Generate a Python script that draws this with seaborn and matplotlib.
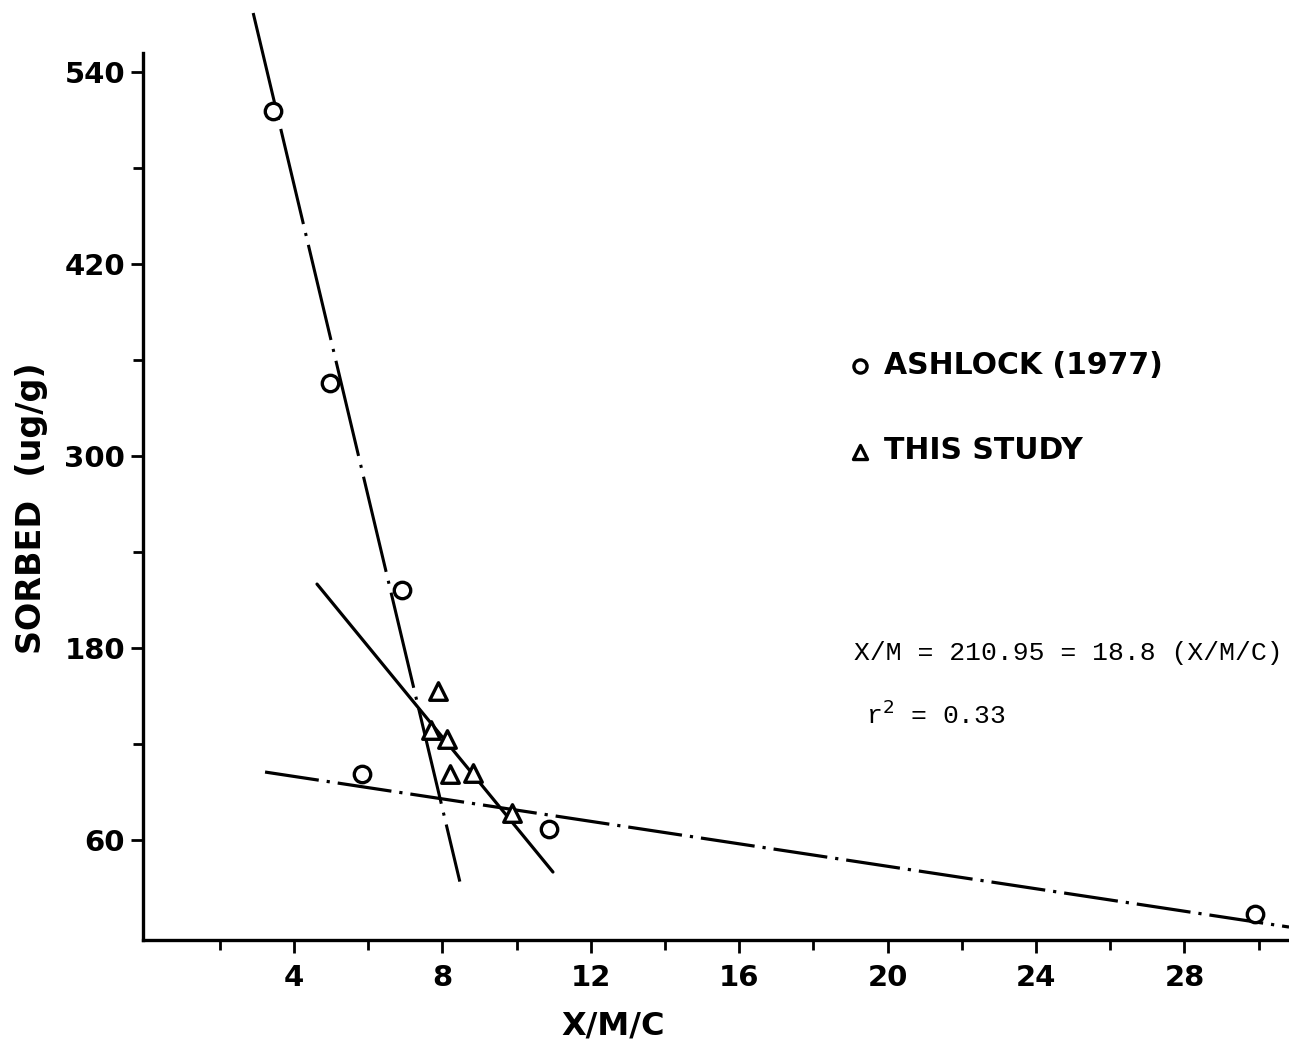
import matplotlib
matplotlib.use("Agg")
import matplotlib.pyplot as plt
import seaborn as sns
import pandas as pd

# ---- data ----
ashlock_x = [3.43, 4.97, 6.91, 5.83, 10.87, 29.9]
ashlock_y = [516, 346, 216, 101, 67, 14]
study_x = [7.88, 7.69, 8.12, 8.20, 8.83, 9.88]
study_y = [153, 129, 123, 101, 102, 77]

# fitted lines (end points)
steep_x = [2.9, 8.47]
steep_y = [577, 34]
study_fit_x = [4.62, 10.98]
study_fit_y = [220, 40]
flat_x = [3.22, 30.82]
flat_y = [102.5, 5.6]

x_major = [4, 8, 12, 16, 20, 24, 28]
x_minor = [2, 6, 10, 14, 18, 22, 26, 30]
y_major = [60, 180, 300, 420, 540]
y_minor = [120, 240, 360, 480]

legend_labels = ["ASHLOCK (1977)", "THIS STUDY"]
equation_text = "X/M = 210.95 = 18.8 (X/M/C)"
r2_text = r"r$^2$ = 0.33"

sns.set_style("ticks")
plt.rcParams["font.family"] = ["DejaVu Sans"]
plt.rcParams["text.color"] = "black"
plt.rcParams["axes.labelcolor"] = "black"
plt.rcParams["xtick.color"] = "black"
plt.rcParams["ytick.color"] = "black"
plt.rcParams["xtick.labelcolor"] = "black"
plt.rcParams["ytick.labelcolor"] = "black"

W, H = 1289, 1045
fig = plt.figure(figsize=(W / 100, H / 100), dpi=100)
ax = fig.add_axes([143 / W, 105 / H, (W - 143) / W, (940 - 53) / H])

df_a = pd.DataFrame({"x": ashlock_x, "y": ashlock_y})
df_s = pd.DataFrame({"x": study_x, "y": study_y})

sns.scatterplot(data=df_a, x="x", y="y", ax=ax, marker="o", s=140,
                facecolor="white", edgecolor="black", linewidth=2.4,
                label=legend_labels[0], zorder=5, clip_on=False)
sns.scatterplot(data=df_s, x="x", y="y", ax=ax, marker="^", s=160,
                facecolor="white", edgecolor="black", linewidth=2.4,
                label=legend_labels[1], zorder=5, clip_on=False)

ax.plot(steep_x, steep_y, color="black", lw=2.2,
        linestyle=(0, (32, 3, 1, 3)), clip_on=False, zorder=3)
ax.plot(study_fit_x, study_fit_y, color="black", lw=2.3,
        linestyle="-", clip_on=False, zorder=3)
ax.plot(flat_x, flat_y, color="black", lw=2.3,
        linestyle=(0, (17, 2.5, 1, 2.5)), clip_on=False, zorder=3)

ax.set_xlim(-0.07, 30.82)
ax.set_ylim(-2.5, 552)

ax.set_xticks(x_major)
ax.set_xticks(x_minor, minor=True)
ax.set_yticks(y_major)
ax.set_yticks(y_minor, minor=True)
ax.tick_params(axis="both", which="both", direction="out", width=2.0,
               color="black")
ax.tick_params(axis="x", which="major", length=9, labelsize=21, pad=8)
ax.tick_params(axis="y", which="major", length=9, labelsize=21, pad=4)
ax.tick_params(axis="both", which="minor", length=7)
for lab in ax.get_xticklabels() + ax.get_yticklabels():
    lab.set_fontweight("bold")

for side in ["top", "right"]:
    ax.spines[side].set_visible(False)
for side in ["left", "bottom"]:
    ax.spines[side].set_linewidth(2.4)
    ax.spines[side].set_color("black")

ax.set_xlabel("X/M/C", fontsize=23, fontweight="bold")
ax.xaxis.set_label_coords((613 - 143) / (W - 143), -(1010 - 940) / (940 - 53))
ax.xaxis.label.set_va("top")
ax.set_ylabel("SORBED  (ug/g)", fontsize=24, fontweight="bold")
ax.yaxis.set_label_coords(-(143 - 15) / (W - 143), (940 - 508) / (940 - 53))
ax.yaxis.label.set_va("top")

leg = ax.legend(loc="center left", bbox_to_anchor=(845 / W, 1 - 408 / H),
                bbox_transform=fig.transFigure, frameon=False,
                prop={"size": 21.5, "weight": "bold"}, labelspacing=1.9,
                handletextpad=0.3, handlelength=1.0, borderpad=0,
                markerscale=0.8, borderaxespad=0)

fig.text(854 / W, 1 - 660 / H, equation_text, family="Liberation Mono",
         fontsize=19, va="baseline", ha="left", color="black")
fig.text(866 / W, 1 - 724 / H, r2_text, family="Liberation Mono",
         fontsize=19, va="baseline", ha="left", color="black")

fig.savefig("out.png", dpi=100, facecolor="white")
